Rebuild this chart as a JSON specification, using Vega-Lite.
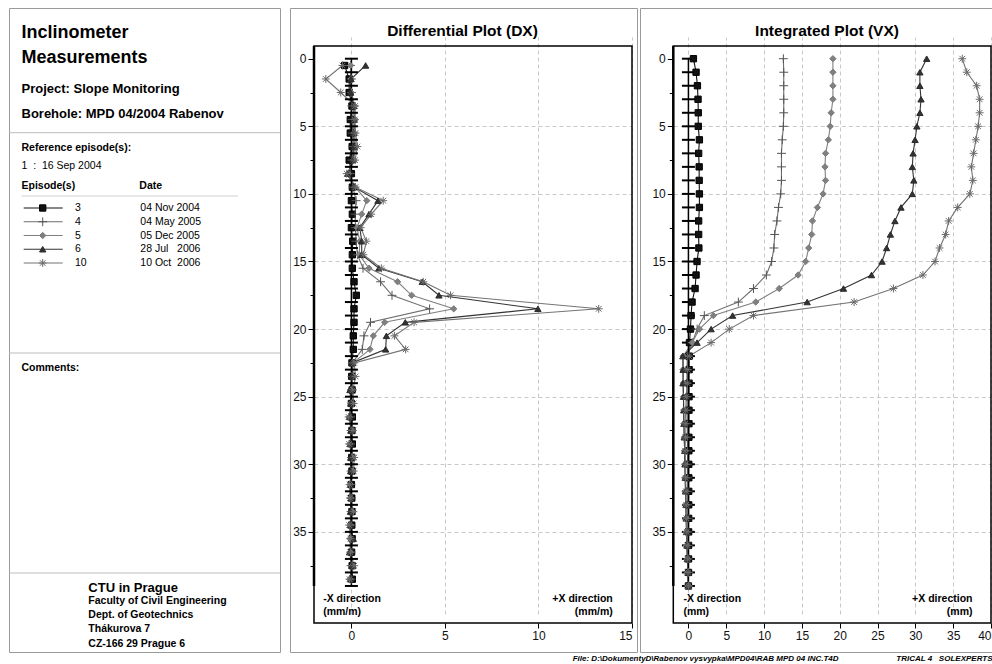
{
  "$schema": "https://vega.github.io/schema/vega-lite/v6.json",
  "padding": {"left": 8, "top": 7, "right": 0, "bottom": 0},
  "background": "white",
  "bounds": "flush",
  "spacing": 10,
  "config": {
    "font": "Liberation Sans",
    "view": {"stroke": "#9a9a9a", "strokeWidth": 1},
    "axis": {"labelFont": "Liberation Sans", "labelFontSize": 12, "labelColor": "#111111", "tickColor": "#000000", "domain": false, "labelOverlap": false}
  },
  "title": {
    "text": "File: D:\\DokumentyD\\Rabenov vysvypka\\MPD04\\RAB MPD 04 INC.T4D\u00a0\u00a0\u00a0\u00a0\u00a0\u00a0\u00a0\u00a0\u00a0\u00a0\u00a0\u00a0\u00a0\u00a0\u00a0\u00a0\u00a0\u00a0\u00a0\u00a0\u00a0\u00a0\u00a0\u00a0\u00a0\u00a0TRICAL 4\u00a0\u00a0\u00a0SOLEXPERTS",
    "orient": "bottom", "anchor": "end", "fontSize": 8, "fontStyle": "italic", "fontWeight": "bold", "offset": 2, "color": "#000000"
  },
  "datasets": {
    "dx": [
      {"depth": 0.5, "3": -0.36, "4": -0.05, "5": -0.04, "6": 0.76, "10": -0.48},
      {"depth": 1.5, "3": -0.12, "4": 0.0, "5": -0.02, "6": -0.02, "10": -1.37},
      {"depth": 2.5, "3": -0.12, "4": 0.0, "5": 0.0, "6": -0.04, "10": -0.57},
      {"depth": 3.5, "3": 0.03, "4": 0.02, "5": 0.18, "6": 0.12, "10": 0.2},
      {"depth": 4.5, "3": -0.06, "4": 0.04, "5": 0.2, "6": 0.15, "10": 0.18},
      {"depth": 5.5, "3": -0.06, "4": 0.06, "5": 0.16, "6": 0.12, "10": 0.22},
      {"depth": 6.5, "3": 0.04, "4": 0.08, "5": 0.24, "6": 0.15, "10": 0.32},
      {"depth": 7.5, "3": -0.12, "4": 0.03, "5": 0.12, "6": 0.08, "10": 0.2},
      {"depth": 8.5, "3": 0.0, "4": -0.04, "5": -0.18, "6": -0.2, "10": -0.25},
      {"depth": 9.5, "3": 0.05, "4": 0.08, "5": 0.2, "6": 0.15, "10": 0.22},
      {"depth": 10.5, "3": 0.0, "4": 0.25, "5": 0.82, "6": 1.42, "10": 1.7},
      {"depth": 11.5, "3": 0.05, "4": 0.2, "5": 0.55, "6": 0.94, "10": 1.06},
      {"depth": 12.5, "3": 0.0, "4": 0.22, "5": 0.3, "6": 0.45, "10": 0.5},
      {"depth": 13.5, "3": 0.07, "4": 0.25, "5": 0.45, "6": 0.55, "10": 0.8},
      {"depth": 14.5, "3": 0.05, "4": 0.32, "5": 0.42, "6": 0.55, "10": 0.64},
      {"depth": 15.5, "3": 0.05, "4": 0.62, "5": 0.94, "6": 1.47, "10": 1.6},
      {"depth": 16.5, "3": 0.14, "4": 1.56, "5": 2.47, "6": 3.79, "10": 3.84},
      {"depth": 17.5, "3": 0.26, "4": 2.17, "5": 3.22, "6": 4.68, "10": 5.3},
      {"depth": 18.5, "3": 0.14, "4": 4.18, "5": 5.47, "6": 9.97, "10": 13.22},
      {"depth": 19.5, "3": 0.14, "4": 1.02, "5": 1.78, "6": 2.88, "10": 3.35},
      {"depth": 20.5, "3": 0.1, "4": 0.67, "5": 1.17, "6": 1.87, "10": 2.3},
      {"depth": 21.5, "3": 0.1, "4": 0.58, "5": 0.99, "6": 1.83, "10": 2.9},
      {"depth": 22.5, "3": 0.03, "4": 0.05, "5": 0.08, "6": 0.03, "10": 0.15},
      {"depth": 23.5, "3": 0.02, "4": 0.03, "5": 0.1, "6": 0.04, "10": 0.22},
      {"depth": 24.5, "3": 0.04, "4": 0.02, "5": -0.05, "6": -0.08, "10": 0.08},
      {"depth": 25.5, "3": 0.0, "4": 0.03, "5": -0.02, "6": -0.03, "10": 0.12},
      {"depth": 26.5, "3": 0.05, "4": -0.03, "5": -0.12, "6": -0.1, "10": -0.15},
      {"depth": 27.5, "3": 0.03, "4": -0.02, "5": 0.02, "6": -0.03, "10": 0.08},
      {"depth": 28.5, "3": 0.05, "4": -0.03, "5": -0.08, "6": -0.06, "10": -0.12},
      {"depth": 29.5, "3": 0.02, "4": 0.0, "5": 0.05, "6": -0.04, "10": 0.15},
      {"depth": 30.5, "3": 0.03, "4": -0.02, "5": 0.08, "6": -0.04, "10": 0.12},
      {"depth": 31.5, "3": 0.0, "4": -0.02, "5": -0.06, "6": -0.05, "10": -0.1},
      {"depth": 32.5, "3": 0.02, "4": 0.0, "5": -0.05, "6": -0.03, "10": -0.08},
      {"depth": 33.5, "3": 0.03, "4": -0.02, "5": 0.03, "6": -0.05, "10": 0.1},
      {"depth": 34.5, "3": 0.02, "4": -0.01, "5": -0.06, "6": -0.05, "10": -0.12},
      {"depth": 35.5, "3": 0.04, "4": -0.01, "5": -0.07, "6": 0.1, "10": -0.05},
      {"depth": 36.5, "3": 0.01, "4": -0.01, "5": -0.07, "6": -0.1, "10": -0.05},
      {"depth": 37.5, "3": 0.04, "4": -0.02, "5": 0.05, "6": 0.03, "10": 0.15},
      {"depth": 38.5, "3": 0.05, "4": -0.01, "5": -0.08, "6": -0.05, "10": -0.1}
    ],
    "vx": [
      {"depth": 0, "3": 0.66, "4": 12.55, "5": 19.1, "6": 31.5, "10": 36.2},
      {"depth": 1, "3": 1.01, "4": 12.6, "5": 19.1, "6": 30.6, "10": 36.8},
      {"depth": 2, "3": 1.19, "4": 12.6, "5": 19.1, "6": 30.6, "10": 38.1},
      {"depth": 3, "3": 1.27, "4": 12.6, "5": 19.1, "6": 30.75, "10": 38.5},
      {"depth": 4, "3": 1.3, "4": 12.6, "5": 18.87, "6": 30.6, "10": 38.5},
      {"depth": 5, "3": 1.3, "4": 12.55, "5": 18.74, "6": 30.2, "10": 38.3},
      {"depth": 6, "3": 1.45, "4": 12.4, "5": 18.5, "6": 29.96, "10": 38.0},
      {"depth": 7, "3": 1.35, "4": 12.3, "5": 18.13, "6": 29.7, "10": 37.7},
      {"depth": 8, "3": 1.42, "4": 12.3, "5": 18.05, "6": 29.6, "10": 37.4},
      {"depth": 9, "3": 1.42, "4": 12.3, "5": 18.13, "6": 29.8, "10": 37.6},
      {"depth": 10, "3": 1.45, "4": 12.2, "5": 17.8, "6": 29.6, "10": 37.2},
      {"depth": 11, "3": 1.45, "4": 11.9, "5": 17.05, "6": 28.1, "10": 35.6},
      {"depth": 12, "3": 1.35, "4": 11.7, "5": 16.4, "6": 27.3, "10": 34.4},
      {"depth": 13, "3": 1.35, "4": 11.4, "5": 16.3, "6": 26.7, "10": 34.0},
      {"depth": 14, "3": 1.38, "4": 11.3, "5": 15.9, "6": 26.2, "10": 33.2},
      {"depth": 15, "3": 1.14, "4": 11.0, "5": 15.5, "6": 25.6, "10": 32.6},
      {"depth": 16, "3": 1.01, "4": 10.3, "5": 14.5, "6": 24.2, "10": 31.0},
      {"depth": 17, "3": 0.88, "4": 8.6, "5": 12.0, "6": 20.5, "10": 27.1},
      {"depth": 18, "3": 0.48, "4": 6.6, "5": 8.9, "6": 15.7, "10": 21.9},
      {"depth": 19, "3": 0.35, "4": 2.1, "5": 3.3, "6": 5.84, "10": 8.6},
      {"depth": 20, "3": 0.27, "4": 1.15, "5": 1.45, "6": 3.0, "10": 5.4},
      {"depth": 21, "3": 0.14, "4": 0.5, "5": 0.5, "6": 1.14, "10": 3.0},
      {"depth": 22, "3": 0.1, "4": -0.15, "5": -0.7, "6": -0.74, "10": 0.1},
      {"depth": 23, "3": 0.09, "4": -0.18, "5": -0.72, "6": -0.7, "10": -0.1},
      {"depth": 24, "3": 0.08, "4": -0.2, "5": -0.68, "6": -0.72, "10": -0.15},
      {"depth": 25, "3": 0.08, "4": -0.18, "5": -0.65, "6": -0.66, "10": -0.3},
      {"depth": 26, "3": 0.07, "4": -0.2, "5": -0.62, "6": -0.63, "10": -0.35},
      {"depth": 27, "3": 0.07, "4": -0.17, "5": -0.6, "6": -0.6, "10": -0.45},
      {"depth": 28, "3": 0.06, "4": -0.15, "5": -0.55, "6": -0.56, "10": -0.4},
      {"depth": 29, "3": 0.06, "4": -0.12, "5": -0.5, "6": -0.5, "10": -0.45},
      {"depth": 30, "3": 0.05, "4": -0.12, "5": -0.48, "6": -0.46, "10": -0.35},
      {"depth": 31, "3": 0.05, "4": -0.1, "5": -0.45, "6": -0.42, "10": -0.38},
      {"depth": 32, "3": 0.04, "4": -0.08, "5": -0.4, "6": -0.38, "10": -0.3},
      {"depth": 33, "3": 0.04, "4": -0.08, "5": -0.35, "6": -0.33, "10": -0.3},
      {"depth": 34, "3": 0.03, "4": -0.06, "5": -0.3, "6": -0.3, "10": -0.25},
      {"depth": 35, "3": 0.03, "4": -0.05, "5": -0.28, "6": -0.25, "10": -0.22},
      {"depth": 36, "3": 0.02, "4": -0.04, "5": -0.22, "6": -0.2, "10": -0.15},
      {"depth": 37, "3": 0.02, "4": -0.03, "5": -0.15, "6": -0.15, "10": -0.1},
      {"depth": 38, "3": 0.01, "4": -0.01, "5": -0.08, "6": -0.05, "10": -0.05},
      {"depth": 39, "3": 0.0, "4": 0.0, "5": 0.0, "6": 0.0, "10": 0.0}
    ],
    "casing": [
      {"depth": 0}, {"depth": 1}, {"depth": 2}, {"depth": 3}, {"depth": 4}, {"depth": 5}, {"depth": 6}, {"depth": 7}, {"depth": 8}, {"depth": 9},
      {"depth": 10}, {"depth": 11}, {"depth": 12}, {"depth": 13}, {"depth": 14}, {"depth": 15}, {"depth": 16}, {"depth": 17}, {"depth": 18}, {"depth": 19},
      {"depth": 20}, {"depth": 21}, {"depth": 22}, {"depth": 23}, {"depth": 24}, {"depth": 25}, {"depth": 26}, {"depth": 27}, {"depth": 28}, {"depth": 29},
      {"depth": 30}, {"depth": 31}, {"depth": 32}, {"depth": 33}, {"depth": 34}, {"depth": 35}, {"depth": 36}, {"depth": 37}, {"depth": 38}, {"depth": 39}
    ],
    "episodes": [
      {"episode": "3", "date": "04 Nov 2004"},
      {"episode": "4", "date": "04 May 2005"},
      {"episode": "5", "date": "05 Dec 2005"},
      {"episode": "6", "date": "28 Jul\u00a0\u00a0\u00a02006"},
      {"episode": "10", "date": "10 Oct\u00a0\u00a02006"}
    ]
  },
  "hconcat": [
    {
      "width": 271,
      "height": 644,
      "resolve": {"scale": {"y": "independent"}},
      "layer": [
        {
          "layer": [
            {"data": {"values": [{"t": "Inclinometer\nMeasurements"}]},
             "mark": {"type": "text", "align": "left", "baseline": "alphabetic", "fontSize": 18, "fontWeight": "bold", "lineBreak": "\n", "lineHeight": 24.4, "color": "#000000"},
             "encoding": {"x": {"datum": 12.5, "type": "quantitative", "scale": {"domain": [0, 271], "range": [0, 271], "nice": false, "zero": false}, "axis": null},
                          "y": {"datum": 30.3, "type": "quantitative", "scale": {"domain": [0, 644], "range": [0, 644], "nice": false, "zero": false}, "axis": null},
                          "text": {"field": "t"}}},
            {"data": {"values": [{"t": "Project: Slope Monitoring\nBorehole: MPD 04/2004 Rabenov"}]},
             "mark": {"type": "text", "align": "left", "baseline": "alphabetic", "fontSize": 13, "fontWeight": "bold", "lineBreak": "\n", "lineHeight": 25, "color": "#000000"},
             "encoding": {"x": {"datum": 12.5, "type": "quantitative", "axis": null}, "y": {"datum": 84.7, "type": "quantitative", "axis": null}, "text": {"field": "t"}}},
            {"data": {"values": [{"t": "Reference episode(s):"}]},
             "mark": {"type": "text", "align": "left", "baseline": "alphabetic", "fontSize": 10.5, "fontWeight": "bold", "color": "#000000"},
             "encoding": {"x": {"datum": 12.5, "type": "quantitative", "axis": null}, "y": {"datum": 143, "type": "quantitative", "axis": null}, "text": {"field": "t"}}},
            {"data": {"values": [{"t": "1\u00a0\u00a0:\u00a0\u00a016 Sep 2004"}]},
             "mark": {"type": "text", "align": "left", "baseline": "alphabetic", "fontSize": 10.5, "color": "#000000"},
             "encoding": {"x": {"datum": 12.5, "type": "quantitative", "axis": null}, "y": {"datum": 160.5, "type": "quantitative", "axis": null}, "text": {"field": "t"}}},
            {"data": {"values": [{"t": "Episode(s)"}]},
             "mark": {"type": "text", "align": "left", "baseline": "alphabetic", "fontSize": 10.5, "fontWeight": "bold", "color": "#000000"},
             "encoding": {"x": {"datum": 12.5, "type": "quantitative", "axis": null}, "y": {"datum": 181.3, "type": "quantitative", "axis": null}, "text": {"field": "t"}}},
            {"data": {"values": [{"t": "Date"}]},
             "mark": {"type": "text", "align": "left", "baseline": "alphabetic", "fontSize": 10.5, "fontWeight": "bold", "color": "#000000"},
             "encoding": {"x": {"datum": 130.3, "type": "quantitative", "axis": null}, "y": {"datum": 181.3, "type": "quantitative", "axis": null}, "text": {"field": "t"}}},
            {"data": {"values": [{"t": "Comments:"}]},
             "mark": {"type": "text", "align": "left", "baseline": "alphabetic", "fontSize": 10.5, "fontWeight": "bold", "color": "#000000"},
             "encoding": {"x": {"datum": 12.5, "type": "quantitative", "axis": null}, "y": {"datum": 363, "type": "quantitative", "axis": null}, "text": {"field": "t"}}},
            {"data": {"values": [{"t": "CTU in Prague"}]},
             "mark": {"type": "text", "align": "left", "baseline": "alphabetic", "fontSize": 13, "fontWeight": "bold", "color": "#000000"},
             "encoding": {"x": {"datum": 79.3, "type": "quantitative", "axis": null}, "y": {"datum": 583.7, "type": "quantitative", "axis": null}, "text": {"field": "t"}}},
            {"data": {"values": [{"t": "Faculty of Civil Engineering\nDept. of Geotechnics\nThákurova 7\nCZ-166 29 Prague 6"}]},
             "mark": {"type": "text", "align": "left", "baseline": "alphabetic", "fontSize": 10.5, "fontWeight": "bold", "lineBreak": "\n", "lineHeight": 14.3, "color": "#000000"},
             "encoding": {"x": {"datum": 79.3, "type": "quantitative", "axis": null}, "y": {"datum": 595.7, "type": "quantitative", "axis": null}, "text": {"field": "t"}}},
            {"data": {"values": [{}]},
             "mark": {"type": "rule", "color": "#bdbdbd", "strokeWidth": 1},
             "encoding": {"x": {"datum": 0, "type": "quantitative", "axis": null}, "x2": {"datum": 271}, "y": {"datum": 124.7, "type": "quantitative", "axis": null}}},
            {"data": {"values": [{}]},
             "mark": {"type": "rule", "color": "#d0d0d0", "strokeWidth": 1},
             "encoding": {"x": {"datum": 12.5, "type": "quantitative", "axis": null}, "x2": {"datum": 229}, "y": {"datum": 188, "type": "quantitative", "axis": null}}},
            {"data": {"values": [{}]},
             "mark": {"type": "rule", "color": "#bdbdbd", "strokeWidth": 1},
             "encoding": {"x": {"datum": 0, "type": "quantitative", "axis": null}, "x2": {"datum": 271}, "y": {"datum": 345, "type": "quantitative", "axis": null}}},
            {"data": {"values": [{}]},
             "mark": {"type": "rule", "color": "#bdbdbd", "strokeWidth": 1},
             "encoding": {"x": {"datum": 0, "type": "quantitative", "axis": null}, "x2": {"datum": 271}, "y": {"datum": 565, "type": "quantitative", "axis": null}}}
          ]
        },
        {
          "data": {"name": "episodes"},
          "layer": [
            {"mark": {"type": "rule", "strokeWidth": 1.2},
             "encoding": {"x": {"datum": 14.7, "type": "quantitative", "axis": null}, "x2": {"datum": 53.7},
                          "y": {"field": "episode", "type": "ordinal", "scale": {"type": "point", "domain": ["3", "4", "5", "6", "10"], "range": [200, 255], "padding": 0}, "axis": null},
                          "color": {"field": "episode", "type": "nominal", "scale": {"domain": ["3", "4", "5", "6", "10"], "range": ["#111111", "#6e6e6e", "#808080", "#333333", "#747474"]}, "legend": null}}},
            {"mark": {"type": "point", "filled": true, "size": 40, "strokeWidth": 1, "opacity": 1},
             "encoding": {"x": {"datum": 33.7, "type": "quantitative", "axis": null},
                          "y": {"field": "episode", "type": "ordinal", "axis": null},
                          "color": {"field": "episode", "type": "nominal", "scale": {"domain": ["3", "4", "5", "6", "10"], "range": ["#000000", "#555555", "#7a7a7a", "#2a2a2a", "#6a6a6a"]}, "legend": null},
                          "stroke": {"field": "episode", "type": "nominal", "scale": {"domain": ["3", "4", "5", "6", "10"], "range": ["#000000", "#555555", "#7a7a7a", "#2a2a2a", "#6a6a6a"]}, "legend": null},
                          "shape": {"field": "episode", "type": "nominal", "scale": {"domain": ["3", "4", "5", "6", "10"], "range": ["square", "M-1.4,0H1.4M0,-1.4V1.4", "diamond", "triangle-up", "M-1.25,0H1.25M0,-1.25V1.25M-0.9,-0.9L0.9,0.9M-0.9,0.9L0.9,-0.9"]}, "legend": null}}},
            {"mark": {"type": "text", "align": "left", "baseline": "middle", "fontSize": 10.5, "color": "#000000"},
             "encoding": {"x": {"datum": 66, "type": "quantitative", "axis": null}, "y": {"field": "episode", "type": "ordinal", "axis": null}, "text": {"field": "episode"}}},
            {"mark": {"type": "text", "align": "left", "baseline": "middle", "fontSize": 10.5, "color": "#000000"},
             "encoding": {"x": {"datum": 131.3, "type": "quantitative", "axis": null}, "y": {"field": "episode", "type": "ordinal", "axis": null}, "text": {"field": "date"}}}
          ]
        }
      ]
    },
    {
      "bounds": "flush",
      "spacing": 3,
      "hconcat": [
        {
          "width": 347,
          "height": 644,
          "title": {"text": "Differential Plot (DX)", "fontSize": 15.5, "fontWeight": "bold", "anchor": "middle", "frame": "group", "offset": -31, "dx": -1, "color": "#000000"},
          "layer": [
            {"data": {"name": "dx"},
             "transform": [{"fold": ["3", "4", "5", "6", "10"], "as": ["episode", "value"]}],
             "mark": {"type": "line", "strokeWidth": 1.1},
             "encoding": {
               "x": {"field": "value", "type": "quantitative",
                     "scale": {"domain": [-2, 15], "range": [24, 342], "nice": false, "zero": false},
                     "axis": {"orient": "bottom", "offset": -29, "title": null, "domain": false,
                              "values": [0, 5, 10, 15], "format": "d", "tickSize": 5,
                              "labelPadding": 2, "grid": true, "gridColor": "#c8c8c8", "gridDash": [4, 3], "gridWidth": 1}},
               "y": {"field": "depth", "type": "quantitative",
                     "scale": {"domain": [-0.94, 41.74], "range": [38, 615], "nice": false, "zero": false},
                     "axis": {"orient": "left", "offset": -24, "title": null, "domain": false,
                              "values": [0, 2.5, 5, 7.5, 10, 12.5, 15, 17.5, 20, 22.5, 25, 27.5, 30, 32.5, 35, 37.5],
                              "labelExpr": "datum.value % 5 === 0 ? datum.label : ''",
                              "tickSize": {"condition": {"test": "datum.value % 5 === 0", "value": 6}, "value": 4},
                              "labelPadding": 2, "grid": true, "gridColor": "#c8c8c8", "gridDash": [4, 3], "gridWidth": 1,
                              "gridOpacity": {"condition": {"test": "datum.value % 5 === 0 && datum.value > 0", "value": 1}, "value": 0}}},
               "color": {"field": "episode", "type": "nominal", "scale": {"domain": ["3", "4", "5", "6", "10"], "range": ["#111111", "#6e6e6e", "#808080", "#333333", "#747474"]}, "legend": null},
               "order": {"field": "depth", "type": "quantitative"}
             }},
            {"data": {"values": [{}]},
             "mark": {"type": "rule", "color": "#000000", "strokeWidth": 1.5},
             "encoding": {"x": {"datum": 0, "type": "quantitative"}, "y": {"datum": 0, "type": "quantitative"}, "y2": {"datum": 39}}},
            {"data": {"name": "casing"},
             "mark": {"type": "tick", "orient": "horizontal", "size": 13, "thickness": 2, "color": "#000000", "opacity": 1},
             "encoding": {"x": {"datum": 0, "type": "quantitative"}, "y": {"field": "depth", "type": "quantitative"}}},
            {"data": {"name": "dx"},
             "transform": [{"fold": ["3", "4", "5", "6", "10"], "as": ["episode", "value"]}],
             "mark": {"type": "point", "filled": true, "size": 40, "strokeWidth": 1, "opacity": 1},
             "encoding": {
               "x": {"field": "value", "type": "quantitative"},
               "y": {"field": "depth", "type": "quantitative"},
               "color": {"field": "episode", "type": "nominal", "scale": {"domain": ["3", "4", "5", "6", "10"], "range": ["#000000", "#555555", "#7a7a7a", "#2a2a2a", "#6a6a6a"]}, "legend": null},
               "stroke": {"field": "episode", "type": "nominal", "scale": {"domain": ["3", "4", "5", "6", "10"], "range": ["#000000", "#555555", "#7a7a7a", "#2a2a2a", "#6a6a6a"]}, "legend": null},
               "shape": {"field": "episode", "type": "nominal", "scale": {"domain": ["3", "4", "5", "6", "10"], "range": ["square", "M-1.4,0H1.4M0,-1.4V1.4", "diamond", "triangle-up", "M-1.25,0H1.25M0,-1.25V1.25M-0.9,-0.9L0.9,0.9M-0.9,0.9L0.9,-0.9"]}, "legend": null}
             }},
            {"data": {"values": [{}]},
             "mark": {"type": "rect", "fillOpacity": 0, "stroke": "#000000", "strokeWidth": 1.5},
             "encoding": {"x": {"datum": -2, "type": "quantitative"}, "x2": {"datum": 15}, "y": {"datum": -0.94, "type": "quantitative"}, "y2": {"datum": 41.74}}},
            {"data": {"values": [{}]},
             "mark": {"type": "rule", "color": "#000000", "strokeWidth": 2.5},
             "encoding": {"x": {"datum": -2, "type": "quantitative"}, "y": {"datum": -0.94, "type": "quantitative"}, "y2": {"datum": 39}}},
            {"data": {"values": [{"t": "-X direction\n(mm/m)"}]},
             "mark": {"type": "text", "align": "left", "baseline": "alphabetic", "fontSize": 10.5, "fontWeight": "bold", "lineBreak": "\n", "lineHeight": 13.3, "color": "#000000"},
             "encoding": {"x": {"datum": -1.51, "type": "quantitative"}, "y": {"datum": 40.18, "type": "quantitative"}, "text": {"field": "t"}}},
            {"data": {"values": [{"t": "+X direction\n(mm/m)"}]},
             "mark": {"type": "text", "align": "right", "baseline": "alphabetic", "fontSize": 10.5, "fontWeight": "bold", "lineBreak": "\n", "lineHeight": 13.3, "color": "#000000"},
             "encoding": {"x": {"datum": 13.97, "type": "quantitative"}, "y": {"datum": 40.18, "type": "quantitative"}, "text": {"field": "t"}}}
          ]
        },
        {
          "width": 352,
          "height": 644,
          "title": {"text": "Integrated Plot (VX)", "fontSize": 15.5, "fontWeight": "bold", "anchor": "middle", "frame": "group", "offset": -31, "dx": 11, "color": "#000000"},
          "layer": [
            {"data": {"name": "vx"},
             "transform": [{"fold": ["3", "4", "5", "6", "10"], "as": ["episode", "value"]}],
             "mark": {"type": "line", "strokeWidth": 1.1},
             "encoding": {
               "x": {"field": "value", "type": "quantitative",
                     "scale": {"domain": [-2, 40], "range": [33.3, 351], "nice": false, "zero": false},
                     "axis": {"orient": "bottom", "offset": -29, "title": null, "domain": false, "labelFlush": true,
                              "values": [0, 5, 10, 15, 20, 25, 30, 35, 40], "format": "d", "tickSize": 5,
                              "labelPadding": 2, "grid": true, "gridColor": "#c8c8c8", "gridDash": [4, 3], "gridWidth": 1}},
               "y": {"field": "depth", "type": "quantitative",
                     "scale": {"domain": [-0.94, 41.74], "range": [38, 615], "nice": false, "zero": false},
                     "axis": {"orient": "left", "offset": -33.3, "title": null, "domain": false,
                              "values": [0, 2.5, 5, 7.5, 10, 12.5, 15, 17.5, 20, 22.5, 25, 27.5, 30, 32.5, 35, 37.5],
                              "labelExpr": "datum.value % 5 === 0 ? datum.label : ''",
                              "tickSize": {"condition": {"test": "datum.value % 5 === 0", "value": 6}, "value": 4},
                              "labelPadding": 2, "grid": true, "gridColor": "#c8c8c8", "gridDash": [4, 3], "gridWidth": 1,
                              "gridOpacity": {"condition": {"test": "datum.value % 5 === 0 && datum.value > 0", "value": 1}, "value": 0}}},
               "color": {"field": "episode", "type": "nominal", "scale": {"domain": ["3", "4", "5", "6", "10"], "range": ["#111111", "#6e6e6e", "#808080", "#333333", "#747474"]}, "legend": null},
               "order": {"field": "depth", "type": "quantitative"}
             }},
            {"data": {"values": [{}]},
             "mark": {"type": "rule", "color": "#000000", "strokeWidth": 1.5},
             "encoding": {"x": {"datum": 0, "type": "quantitative"}, "y": {"datum": 0, "type": "quantitative"}, "y2": {"datum": 39}}},
            {"data": {"name": "casing"},
             "mark": {"type": "tick", "orient": "horizontal", "size": 13, "thickness": 2, "color": "#000000", "opacity": 1},
             "encoding": {"x": {"datum": 0, "type": "quantitative"}, "y": {"field": "depth", "type": "quantitative"}}},
            {"data": {"name": "vx"},
             "transform": [{"fold": ["3", "4", "5", "6", "10"], "as": ["episode", "value"]}],
             "mark": {"type": "point", "filled": true, "size": 40, "strokeWidth": 1, "opacity": 1},
             "encoding": {
               "x": {"field": "value", "type": "quantitative"},
               "y": {"field": "depth", "type": "quantitative"},
               "color": {"field": "episode", "type": "nominal", "scale": {"domain": ["3", "4", "5", "6", "10"], "range": ["#000000", "#555555", "#7a7a7a", "#2a2a2a", "#6a6a6a"]}, "legend": null},
               "stroke": {"field": "episode", "type": "nominal", "scale": {"domain": ["3", "4", "5", "6", "10"], "range": ["#000000", "#555555", "#7a7a7a", "#2a2a2a", "#6a6a6a"]}, "legend": null},
               "shape": {"field": "episode", "type": "nominal", "scale": {"domain": ["3", "4", "5", "6", "10"], "range": ["square", "M-1.4,0H1.4M0,-1.4V1.4", "diamond", "triangle-up", "M-1.25,0H1.25M0,-1.25V1.25M-0.9,-0.9L0.9,0.9M-0.9,0.9L0.9,-0.9"]}, "legend": null}
             }},
            {"data": {"values": [{}]},
             "mark": {"type": "rect", "fillOpacity": 0, "stroke": "#000000", "strokeWidth": 1.5},
             "encoding": {"x": {"datum": -2, "type": "quantitative"}, "x2": {"datum": 40}, "y": {"datum": -0.94, "type": "quantitative"}, "y2": {"datum": 41.74}}},
            {"data": {"values": [{}]},
             "mark": {"type": "rule", "color": "#000000", "strokeWidth": 2.5},
             "encoding": {"x": {"datum": -2, "type": "quantitative"}, "y": {"datum": -0.94, "type": "quantitative"}, "y2": {"datum": 39}}},
            {"data": {"values": [{"t": "-X direction\n(mm)"}]},
             "mark": {"type": "text", "align": "left", "baseline": "alphabetic", "fontSize": 10.5, "fontWeight": "bold", "lineBreak": "\n", "lineHeight": 13.3, "color": "#000000"},
             "encoding": {"x": {"datum": -0.66, "type": "quantitative"}, "y": {"datum": 40.18, "type": "quantitative"}, "text": {"field": "t"}}},
            {"data": {"values": [{"t": "+X direction\n(mm)"}]},
             "mark": {"type": "text", "align": "right", "baseline": "alphabetic", "fontSize": 10.5, "fontWeight": "bold", "lineBreak": "\n", "lineHeight": 13.3, "color": "#000000"},
             "encoding": {"x": {"datum": 37.55, "type": "quantitative"}, "y": {"datum": 40.18, "type": "quantitative"}, "text": {"field": "t"}}}
          ]
        }
      ]
    }
  ]
}
